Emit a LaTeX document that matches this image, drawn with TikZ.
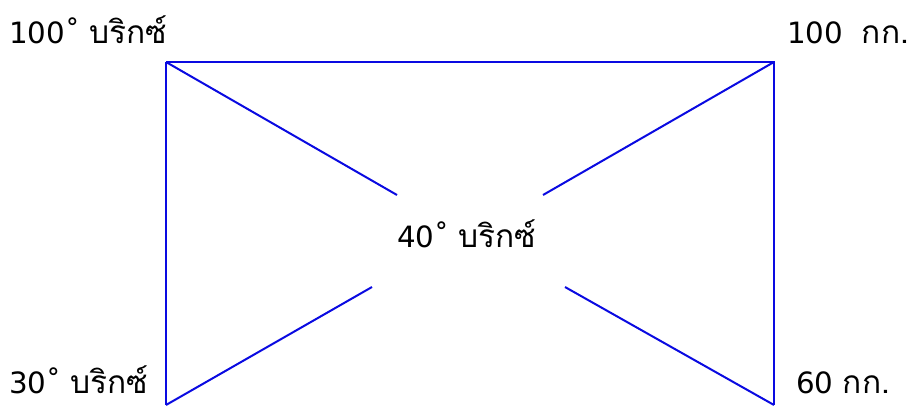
\documentclass[tikz,border=0pt]{standalone}
\usepackage{fontspec}
\setmainfont{DejaVu Sans}
\newfontfamily\thaifont[Script=Thai,Scale=1.08]{Loma}
\definecolor{lineblue}{RGB}{10,10,225}
\begin{document}
\begin{tikzpicture}[x=0.75pt,y=-0.75pt,
  lbl/.style={anchor=base west,inner sep=0pt,font=\fontsize{22}{26}\selectfont},
  edge/.style={draw=lineblue,line width=1.6pt},
  diag/.style={draw=lineblue,line width=1.5pt}]
\useasboundingbox (0,0) rectangle (920,407);
\coordinate (tl) at (166,62);
\coordinate (tr) at (774,62);
\coordinate (br) at (774,405);
\coordinate (bl) at (166,405);
\coordinate (etl) at (397,195);
\coordinate (etr) at (543,195);
\coordinate (ebl) at (372,287);
\coordinate (ebr) at (565,287);
\draw[edge] (tl) -- (tr) -- (br);
\draw[edge] (tl) -- (bl);
\node[lbl] (c) at (397,247) {40˚ {\thaifont บริกซ์}};
\draw[diag] (tl) -- (etl);
\draw[diag] (tr) -- (etr);
\draw[diag] (bl) -- (ebl);
\draw[diag] (br) -- (ebr);
\node[lbl] (a) at (9,43) {100˚ {\thaifont บริกซ์}};
\node[lbl] (b) at (787,43) {100\ \ {\thaifont กก.}};
\node[lbl] (d) at (9,393) {30˚ {\thaifont บริกซ์}};
\node[lbl] (e) at (796,393) {60 {\thaifont กก.}};
\end{tikzpicture}
\end{document}
